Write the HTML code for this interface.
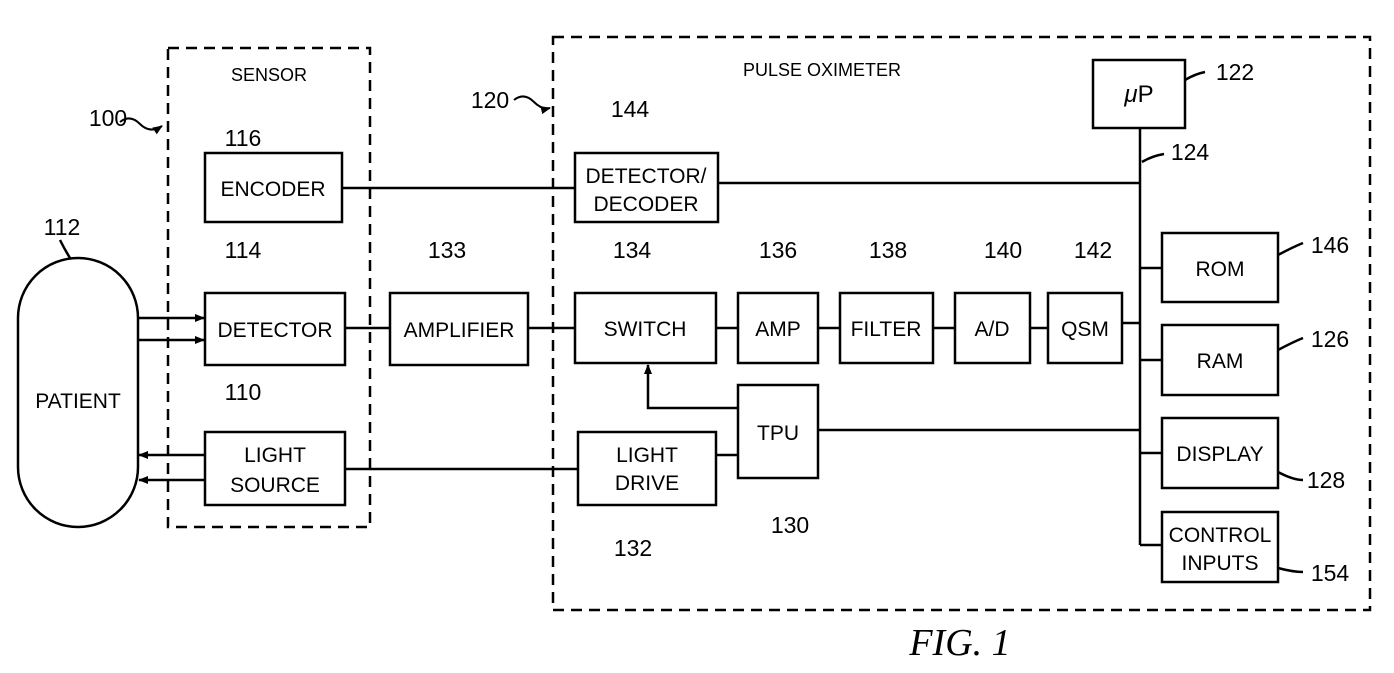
<!DOCTYPE html>
<html><head><meta charset="utf-8"><style>
html,body{margin:0;padding:0;background:#fff;}
svg{display:block;}
text{font-family:"Liberation Sans",sans-serif;fill:#000;}
.b{font-size:21px;text-anchor:middle;}
.n{font-size:23px;text-anchor:middle;}
</style></head><body>
<svg width="1394" height="673" viewBox="0 0 1394 673" xmlns="http://www.w3.org/2000/svg">
<defs><marker id="a" markerWidth="10" markerHeight="10" refX="9" refY="5" orient="auto" markerUnits="userSpaceOnUse"><path d="M0,1 L10,5 L0,9 z" fill="#000"/></marker></defs>
<g fill="none" stroke="#000" stroke-width="2.5">
<rect x="168" y="48" width="202" height="479" stroke-dasharray="11,7"/>
<rect x="553" y="37" width="817" height="573" stroke-dasharray="11,7"/>
<rect x="18" y="258" width="120" height="269" rx="60" ry="60"/>
<rect x="205" y="153" width="137" height="69"/>
<rect x="205" y="293" width="140" height="72"/>
<rect x="205" y="432" width="140" height="73"/>
<rect x="390" y="293" width="138" height="72"/>
<rect x="575" y="153" width="143" height="69"/>
<rect x="575" y="293" width="141" height="70"/>
<rect x="738" y="293" width="80" height="70"/>
<rect x="840" y="293" width="93" height="70"/>
<rect x="955" y="293" width="75" height="70"/>
<rect x="1048" y="293" width="74" height="70"/>
<rect x="738" y="385" width="80" height="93"/>
<rect x="578" y="432" width="138" height="73"/>
<rect x="1093" y="60" width="92" height="68"/>
<rect x="1162" y="233" width="116" height="69"/>
<rect x="1162" y="325" width="116" height="70"/>
<rect x="1162" y="418" width="116" height="70"/>
<rect x="1162" y="512" width="116" height="70"/>
<path d="M1140,128 V545"/>
<path d="M342,188 H575 M718,183 H1140"/>
<path d="M345,328 H390 M528,328 H575 M716,328 H738 M818,328 H840 M933,328 H955 M1030,328 H1048 M1122,323 H1140"/>
<path d="M818,430 H1140"/>
<path d="M1140,268 H1162 M1140,360 H1162 M1140,453 H1162 M1140,545 H1162"/>
<path d="M716,455 H738"/>
<path d="M738,408 H648 V365" marker-end="url(#a)"/>
<path d="M578,469 H345"/>
<path d="M138,318 H204" marker-end="url(#a)"/>
<path d="M138,340 H204" marker-end="url(#a)"/>
<path d="M205,455 H139" marker-end="url(#a)"/>
<path d="M205,480 H139" marker-end="url(#a)"/>
<path d="M120,122 q10,-8 20,2 q10,10 22,2" marker-end="url(#a)" stroke-width="2"/>
<path d="M514,100 q10,-8 20,2 q8,8 16,6" marker-end="url(#a)" stroke-width="2"/>
<path d="M1185,80 q10,-6 20,-8"/>
<path d="M1142,162 q10,-6 22,-8"/>
<path d="M1278,255 q15,-8 25,-12"/>
<path d="M1278,350 q15,-8 25,-12"/>
<path d="M1278,472 q15,8 25,8"/>
<path d="M1278,568 q15,4 25,4"/>
<path d="M60,240 q5,10 10,18"/>
</g>
<text class="b" x="269" y="81" style="font-size:18px">SENSOR</text>
<text class="b" x="822" y="76" style="font-size:18px">PULSE OXIMETER</text>
<text class="b" x="78" y="408">PATIENT</text>
<text class="b" x="273" y="196">ENCODER</text>
<text class="b" x="275" y="337">DETECTOR</text>
<text class="b" x="275" y="462">LIGHT</text>
<text class="b" x="275" y="492">SOURCE</text>
<text class="b" x="459" y="337">AMPLIFIER</text>
<text class="b" x="646" y="183">DETECTOR/</text>
<text class="b" x="646" y="211">DECODER</text>
<text class="b" x="645" y="336">SWITCH</text>
<text class="b" x="778" y="336">AMP</text>
<text class="b" x="886" y="336">FILTER</text>
<text class="b" x="992" y="336">A/D</text>
<text class="b" x="1085" y="336">QSM</text>
<text class="b" x="778" y="440">TPU</text>
<text class="b" x="647" y="462">LIGHT</text>
<text class="b" x="647" y="490">DRIVE</text>
<text class="b" x="1139" y="102" style="font-size:24px"><tspan font-style="italic">μ</tspan>P</text>
<text class="b" x="1220" y="276">ROM</text>
<text class="b" x="1220" y="368">RAM</text>
<text class="b" x="1220" y="461">DISPLAY</text>
<text class="b" x="1220" y="542">CONTROL</text>
<text class="b" x="1220" y="570">INPUTS</text>
<text class="n" x="108" y="126">100</text>
<text class="n" x="490" y="108">120</text>
<text class="n" x="62" y="235">112</text>
<text class="n" x="243" y="146">116</text>
<text class="n" x="243" y="258">114</text>
<text class="n" x="243" y="400">110</text>
<text class="n" x="447" y="258">133</text>
<text class="n" x="630" y="117">144</text>
<text class="n" x="632" y="258">134</text>
<text class="n" x="778" y="258">136</text>
<text class="n" x="888" y="258">138</text>
<text class="n" x="1003" y="258">140</text>
<text class="n" x="1093" y="258">142</text>
<text class="n" x="1235" y="80">122</text>
<text class="n" x="1190" y="160">124</text>
<text class="n" x="1330" y="253">146</text>
<text class="n" x="1330" y="347">126</text>
<text class="n" x="1326" y="488">128</text>
<text class="n" x="1330" y="581">154</text>
<text class="n" x="790" y="533">130</text>
<text class="n" x="633" y="556">132</text>
<text x="960" y="655" style="font-family:'Liberation Serif',serif;font-style:italic;font-size:38px;text-anchor:middle">FIG. 1</text>
</svg>
</body></html>
